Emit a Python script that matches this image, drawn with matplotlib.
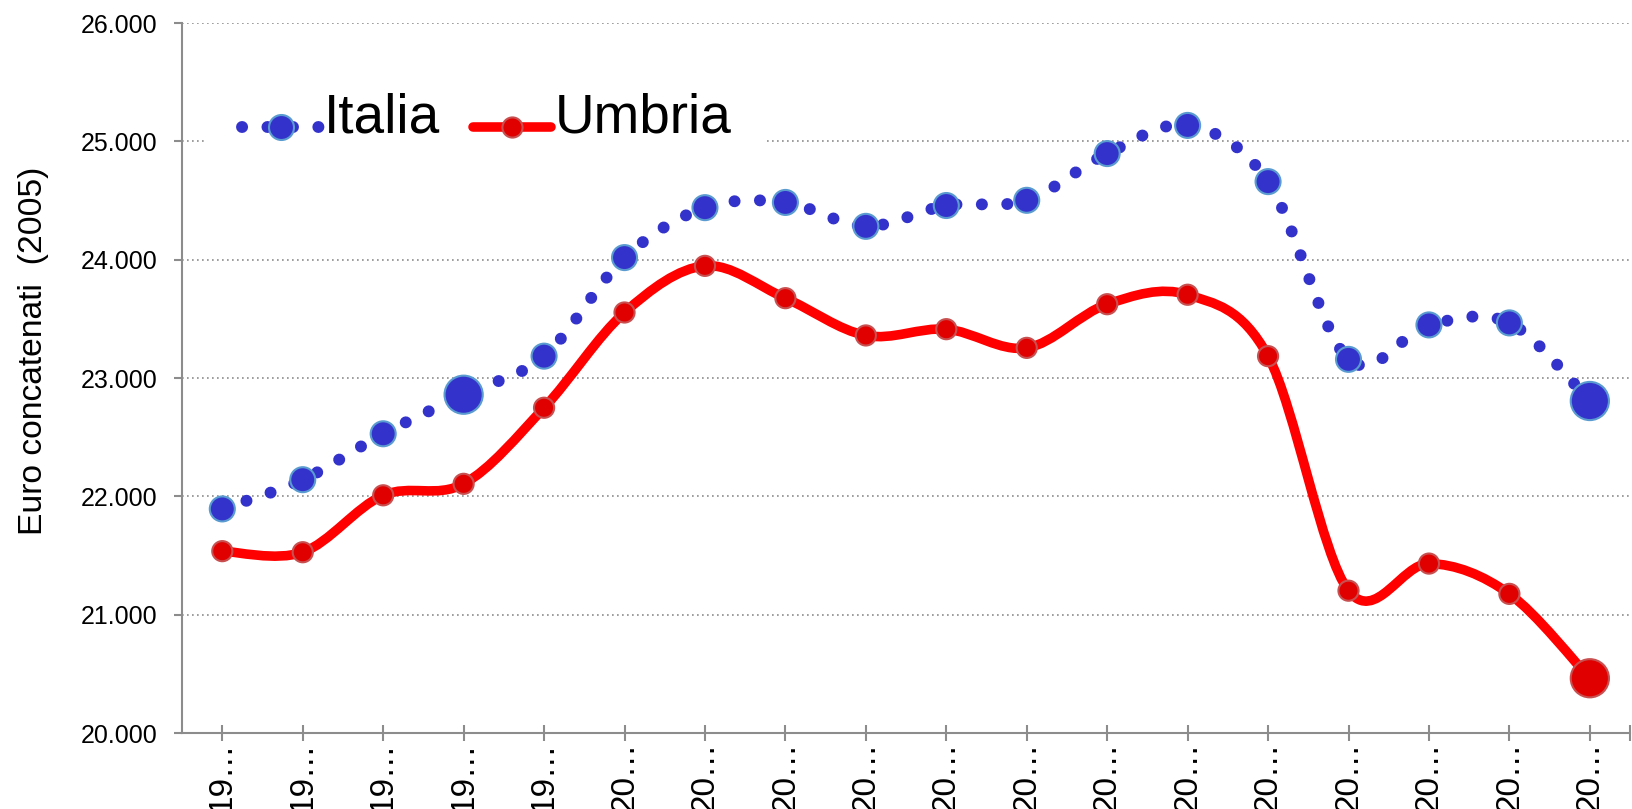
import numpy as np
import matplotlib
matplotlib.use("Agg")
import matplotlib.pyplot as plt
from matplotlib.path import Path
from matplotlib.patches import PathPatch
from matplotlib.lines import Line2D
from matplotlib.legend_handler import HandlerLine2D
from matplotlib.ticker import FuncFormatter

plt.rcParams['font.family'] = ['Liberation Sans', 'DejaVu Sans']

# data
years = list(range(1995, 2013))
italia = [21894, 22141, 22529, 22859, 23185, 24018, 24440, 24484, 24282,
          24458, 24502, 24897, 25135, 24660, 23158, 23449, 23466, 22806]
umbria = [21537, 21528, 22009, 22106, 22749, 23554, 23948, 23675, 23360,
          23413, 23255, 23624, 23704, 23185, 21203, 21432, 21176, 20463]
# points drawn bigger in the original
italia_big = [3, 17]
umbria_big = [17]

xlabels = [str(y)[:2] + "\u2026" for y in years]
x = np.arange(len(years))

BLUE = "#3333cc"
BLUE_EDGE = "#5a9bd0"
RED = "#ff0000"
RED_FILL = "#e00000"
RED_EDGE = "#c85050"
GREY = "#8c8c8c"


def smooth_path(xs, ys):
    # catmull-rom style bezier through the points
    p = np.column_stack([xs, ys]).astype(float)
    ext = np.vstack([p[0], p, p[-1]])
    verts = [p[0]]
    codes = [Path.MOVETO]
    for i in range(len(p) - 1):
        p0, p1, p2, p3 = ext[i], ext[i + 1], ext[i + 2], ext[i + 3]
        c1 = p1 + (p2 - p0) / 6.0
        c2 = p2 - (p3 - p1) / 6.0
        verts += [c1, c2, p2]
        codes += [Path.CURVE4] * 3
    return Path(verts, codes)


class LowHandler(HandlerLine2D):
    # legend handle sits a bit lower than the text centre
    def create_artists(self, legend, orig_handle, xdescent, ydescent, width,
                       height, fontsize, trans):
        return super().create_artists(legend, orig_handle, xdescent, ydescent + 10.5,
                                      width, height, fontsize, trans)


fig = plt.figure(figsize=(16.33, 8.09), dpi=100)
ax = fig.add_axes([0.1115, 0.0939, 0.8867, 0.8776])

# Italia: dotted smooth line
dots = (0, (0.01, 2.12))
ax.add_patch(PathPatch(smooth_path(x, italia), fill=False, edgecolor=BLUE,
                       lw=8.6, linestyle=dots, capstyle='round', zorder=3))
sz_it = [27.5 if i in italia_big else 18 for i in range(len(x))]
ax.scatter(x, italia, s=np.array(sz_it) ** 2, color=BLUE, edgecolors=BLUE_EDGE,
           linewidths=1.5, zorder=4, clip_on=False)

# Umbria: thick smooth line
ax.add_patch(PathPatch(smooth_path(x, umbria), fill=False, edgecolor=RED,
                       lw=6.9, capstyle='round', joinstyle='round', zorder=3))
sz_um = [27.5 if i in umbria_big else 14.5 for i in range(len(x))]
ax.scatter(x, umbria, s=np.array(sz_um) ** 2, color=RED_FILL, edgecolors=RED_EDGE,
           linewidths=1.5, zorder=4, clip_on=False)

ax.set_xlim(-0.5, len(x) - 0.5)
ax.set_ylim(20000, 26000)
ax.set_yticks(range(20000, 26001, 1000))
ax.yaxis.set_major_formatter(FuncFormatter(lambda v, p: f"{int(v):,}".replace(",", ".")))
ax.set_xticks(x)
ax.set_xticklabels(xlabels, rotation=90, fontsize=24)
ax.set_xticks([len(x) - 0.5], minor=True)

ax.grid(axis='y', color=GREY, linestyle=(0, (1, 2)), lw=1.2)
ax.set_axisbelow(True)
for s in ['top', 'right']:
    ax.spines[s].set_visible(False)
for s in ['left', 'bottom']:
    ax.spines[s].set_color(GREY)
    ax.spines[s].set_linewidth(1.5)

ax.tick_params(axis='y', direction='out', length=5.8, width=1.5, color=GREY,
               labelsize=18, pad=12)
ax.tick_params(axis='x', which='both', direction='inout', length=12, width=1.5,
               color=GREY, pad=0)

ax.set_ylabel("Euro concatenati  (2005)", fontsize=24.2)
ax.yaxis.set_label_coords(-0.092, 0.539)

handles = [
    Line2D([], [], color=BLUE, lw=8.6, ls=dots, dash_capstyle='round', marker='o',
           ms=18, mfc=BLUE, mec=BLUE_EDGE, mew=1.5),
    Line2D([], [], color=RED, lw=6.9, solid_capstyle='round', marker='o',
           ms=14.5, mfc=RED_FILL, mec=RED_EDGE, mew=1.5),
]
leg = ax.legend(handles, ["Italia", "Umbria"], ncol=2, loc='center left',
                bbox_to_anchor=(0.0173, 0.865), borderaxespad=0, fontsize=39.5,
                handlelength=1.43, handleheight=0.0, handletextpad=0.06,
                columnspacing=0.6, borderpad=0.63, frameon=True, fancybox=False,
                framealpha=1, edgecolor='none', facecolor='white',
                handler_map={Line2D: LowHandler()})
leg.set_zorder(5)

fig.savefig("out.png", dpi=100)
